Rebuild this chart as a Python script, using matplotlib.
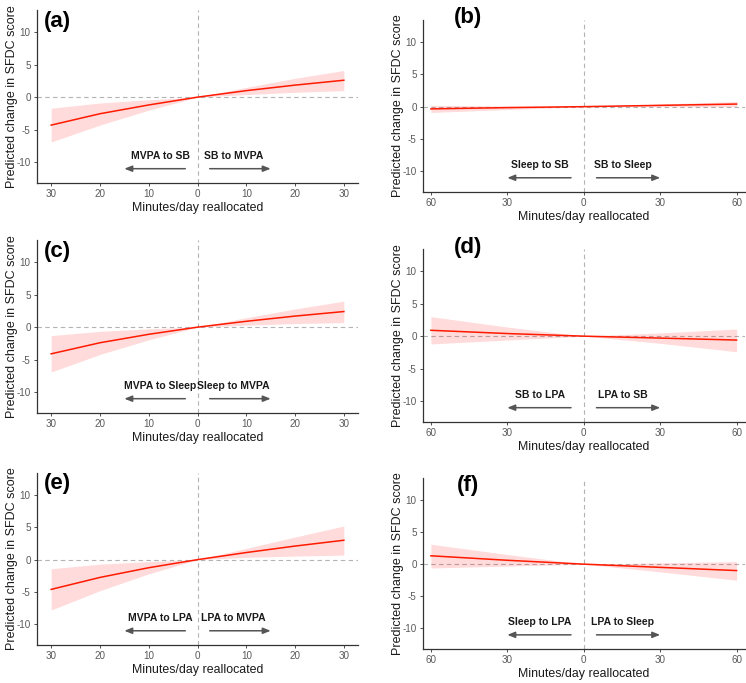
import numpy as np
import matplotlib
matplotlib.use("Agg")
import matplotlib.pyplot as plt

plt.rcParams['font.family'] = ['Liberation Sans', 'DejaVu Sans']
plt.rcParams['axes.unicode_minus'] = False

# minutes/day reallocated (negative = left side of each panel)
x_short = [-30, -20, -10, 0, 10, 20, 30]
x_long = [-60, -30, 0, 30, 60]

# predicted change in SFDC score with 95% CI bounds
a_est = [-4.3, -2.55, -1.2, 0, 1.0, 1.85, 2.6]
a_lo = [-6.9, -4.3, -2.0, 0, 0.4, 0.75, 1.0]
a_hi = [-1.7, -0.9, -0.4, 0, 1.5, 2.9, 4.1]

b_est = [-0.35, -0.15, 0, 0.2, 0.4]
b_lo = [-0.9, -0.45, 0, 0.0, 0.0]
b_hi = [0.2, 0.1, 0, 0.4, 0.8]

c_est = [-4.1, -2.4, -1.1, 0, 0.9, 1.7, 2.4]
c_lo = [-6.9, -4.2, -1.95, 0, 0.3, 0.55, 0.7]
c_hi = [-1.3, -0.65, -0.25, 0, 1.45, 2.8, 4.0]

d_est = [0.9, 0.4, 0, -0.3, -0.6]
d_lo = [-1.2, -0.6, 0, -1.1, -2.4]
d_hi = [3.0, 1.4, 0, 0.5, 1.1]

e_est = [-4.6, -2.75, -1.25, 0, 1.1, 2.1, 3.0]
e_lo = [-7.8, -4.8, -2.2, 0, 0.35, 0.55, 0.7]
e_hi = [-1.4, -0.7, -0.3, 0, 1.75, 3.5, 5.2]

f_est = [1.3, 0.6, 0, -0.5, -1.0]
f_lo = [-0.6, -0.3, 0, -1.2, -2.5]
f_hi = [3.1, 1.5, 0, 0.2, 0.4]

panels = [
    ("(a)", x_short, a_est, a_lo, a_hi, "MVPA to SB", "SB to MVPA"),
    ("(b)", x_long, b_est, b_lo, b_hi, "Sleep to SB", "SB to Sleep"),
    ("(c)", x_short, c_est, c_lo, c_hi, "MVPA to Sleep", "Sleep to MVPA"),
    ("(d)", x_long, d_est, d_lo, d_hi, "SB to LPA", "LPA to SB"),
    ("(e)", x_short, e_est, e_lo, e_hi, "MVPA to LPA", "LPA to MVPA"),
    ("(f)", x_long, f_est, f_lo, f_hi, "Sleep to LPA", "LPA to Sleep"),
]

W, H = 746, 683
fig = plt.figure(figsize=(W / 100, H / 100), dpi=100)

# axes boxes in pixels: left, top, right, bottom
boxes = [
    (37, 10, 358, 183), (423, 20, 744.5, 192),
    (37, 240, 358, 413), (423, 249, 744.5, 422),
    (37, 473, 358, 645), (423, 478, 744.5, 649),
]
label_pos = [(57, 21), (468, 17), (57, 251), (468, 247), (57, 483), (468, 486)]

grey = "#595959"
for i, (tag, xs, est, lo, hi, left_txt, right_txt) in enumerate(panels):
    l, t, r, b = boxes[i]
    ax = fig.add_axes([l / W, 1 - b / H, (r - l) / W, (b - t) / H])
    short = len(xs) == 7

    ax.fill_between(xs, lo, hi, color="red", alpha=0.14, lw=0)
    ax.plot(xs, est, color="#ff1a00", lw=1.1)
    ax.axhline(0, color="#b3b3b3", ls=(0, (4, 3)), lw=0.8, zorder=0)
    ax.axvline(0, color="#b3b3b3", ls=(0, (4, 3)), lw=0.8, zorder=0)

    if short:
        ax.set_xlim(-32.9, 32.9)
        ticks = [-30, -20, -10, 0, 10, 20, 30]
        tx_l, tx_r, a0, a1 = -7.6, 7.35, 2.5, 15
    else:
        ax.set_xlim(-63.1, 63.1)
        ticks = [-60, -30, 0, 30, 60]
        tx_l, tx_r, a0, a1 = -17.3, 15.2, 5, 30
    ax.set_ylim(-13.2, 13.4)
    ax.set_xticks(ticks)
    ax.set_xticklabels([str(abs(v)) for v in ticks])
    ax.set_yticks([-10, -5, 0, 5, 10])

    ax.text(tx_l, -9, left_txt, ha="center", va="center", fontsize=7.5,
            fontweight="bold", color="#1a1a1a")
    ax.text(tx_r, -9, right_txt, ha="center", va="center", fontsize=7.5,
            fontweight="bold", color="#1a1a1a")
    arrow = dict(arrowstyle="-|>,head_length=0.45,head_width=0.18",
                 color="#555555", lw=1.1, shrinkA=0, shrinkB=0)
    ax.annotate("", xy=(-a1, -11), xytext=(-a0, -11), arrowprops=arrow)
    ax.annotate("", xy=(a1, -11), xytext=(a0, -11), arrowprops=arrow)

    for s in ["top", "right"]:
        ax.spines[s].set_visible(False)
    for s in ["left", "bottom"]:
        ax.spines[s].set_color("#333333")
        ax.spines[s].set_linewidth(0.9)
    ax.tick_params(colors="#333333", labelcolor=grey, labelsize=7.1,
                   length=2.5, width=0.6, pad=2)
    ax.set_xlabel("Minutes/day reallocated", fontsize=8.9, color="#1a1a1a",
                  labelpad=2)
    ax.set_ylabel("Predicted change in SFDC score", fontsize=9.0,
                  color="#1a1a1a", labelpad=-1)

    lx, ly = label_pos[i]
    fig.text(lx / W, 1 - ly / H, tag, ha="center", va="center",
             fontsize=16, fontweight="bold", color="black")

fig.savefig("out.png", dpi=100, facecolor="white")
